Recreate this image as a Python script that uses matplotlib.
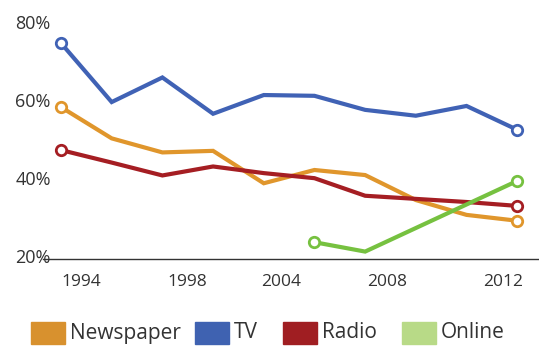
import matplotlib.pyplot as plt
from matplotlib.patches import Rectangle

years = [1994, 1996, 1998, 2000, 2002, 2004, 2006, 2008, 2010, 2012]
tv = [74.5, 59.4, 65.7, 56.4, 61.2, 61.0, 57.4, 55.9, 58.4, 52.3]
newspaper = [58.1, 50.1, 46.5, 46.9, 38.6, 42.0, 40.7, 34.3, 30.5, 29.0]
radio = [47.1, 43.9, 40.6, 42.9, 41.2, 39.9, 35.4, 34.6, 33.8, 32.8]
online_years = [2004, 2006, 2012]
online = [23.5, 21.1, 39.2]

# tick labels sit a little off the survey years in the original
xtick_pos = [1994.8, 1999.0, 2002.7, 2006.85, 2011.45]
xtick_labels = ['1994', '1998', '2004', '2008', '2012']
ytick_pos = [20, 40, 60, 80]
ytick_labels = ['20%', '40%', '60%', '80%']

legend_names = ['Newspaper', 'TV', 'Radio', 'Online']

c_news = '#E0962C'
c_tv = '#4062B5'
c_radio = '#A51E23'
c_online = '#76C140'
legend_colors = ['#D8912E', '#3F62B1', '#A01E22', '#B8DA87']

plt.rcParams['font.family'] = ['Open Sans', 'DejaVu Sans']
text_col = '#333333'

fig = plt.figure(figsize=(5.39, 3.48), dpi=100)
ax = fig.add_axes([43 / 539, 1 - 259 / 348, 495 / 539, (259 - 15) / 348])

lw = 3.0
ms = 7.5
mew = 2.0

def draw(x, y, color, z):
    ax.plot(x, y, color=color, lw=lw, solid_joinstyle='miter', zorder=z)
    ax.plot([x[0], x[-1]], [y[0], y[-1]], 'o', ms=ms, mfc='white',
            mec=color, mew=mew, zorder=z + 0.5)

draw(years, tv, c_tv, 2)
draw(years, newspaper, c_news, 3)
draw(years, radio, c_radio, 4)
draw(online_years, online, c_online, 5)

ax.set_xlim(1993.29, 2012.82)
ax.set_ylim(19.2, 81.7)

for s in ['top', 'right', 'left']:
    ax.spines[s].set_visible(False)
ax.spines['bottom'].set_color('#333333')
ax.spines['bottom'].set_linewidth(1.0)

ax.set_xticks(xtick_pos)
ax.set_xticklabels(xtick_labels, fontsize=12.5, color=text_col)
ax.set_yticks(ytick_pos)
ax.set_yticklabels(ytick_labels, fontsize=13, color=text_col, ha='left')
ax.tick_params(axis='x', length=0, pad=11)
ax.tick_params(axis='y', length=0, pad=20)
ax.patch.set_visible(False)

# legend row along the bottom
patch_x = [31, 195, 283, 402]
for name, col, px in zip(legend_names, legend_colors, patch_x):
    fig.patches.append(Rectangle((px / 539, 1 - 344 / 348), 34 / 539, 22 / 348,
                                 transform=fig.transFigure, color=col))
    fig.text((px + 39) / 539, 1 - 333 / 348, name, fontsize=15,
             color=text_col, va='center', ha='left')

fig.savefig('out.png', dpi=100)
